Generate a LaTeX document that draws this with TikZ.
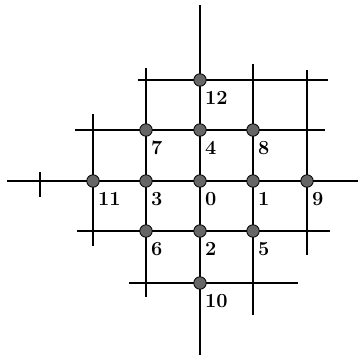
\documentclass[tikz,border=0pt]{standalone}
\usepackage{fontspec}
\begin{document}
\begin{tikzpicture}[x=1pt,y=-1pt,
  gridline/.style={line width=1.4pt,black},
  site/.style={circle,minimum size=12.5pt,inner sep=0pt,fill=black!60,draw=black,line width=0.8pt},
  num/.style={anchor=west,inner sep=0pt,font=\fontsize{20}{20}\selectfont\bfseries}]
\useasboundingbox (0,0) rectangle (358,357);
% line end points
\coordinate (v1a) at (93,114);  \coordinate (v1b) at (93,246);
\coordinate (v2a) at (146,68);  \coordinate (v2b) at (146,297);
\coordinate (v3a) at (200,5);   \coordinate (v3b) at (200,355);
\coordinate (v4a) at (253,64);  \coordinate (v4b) at (253,315);
\coordinate (v5a) at (307,70);  \coordinate (v5b) at (307,255);
\coordinate (ta) at (40,172);   \coordinate (tb) at (40,197);
\coordinate (h1a) at (138,80);  \coordinate (h1b) at (328,80);
\coordinate (h2a) at (75,130);  \coordinate (h2b) at (325,130);
\coordinate (h3a) at (7,181);   \coordinate (h3b) at (358,181);
\coordinate (h4a) at (77,231);  \coordinate (h4b) at (330,231);
\coordinate (h5a) at (129,283); \coordinate (h5b) at (298,283);
% lines
\foreach \a/\b in {v1a/v1b,v2a/v2b,v3a/v3b,v4a/v4b,v5a/v5b,ta/tb,h1a/h1b,h2a/h2b,h3a/h3b,h4a/h4b,h5a/h5b}
  \draw[gridline] (\a) -- (\b);
% sites
\node[site] (n12) at (200,80) {};
\node[site] (n7) at (146,130) {};
\node[site] (n4) at (200,130) {};
\node[site] (n8) at (253,130) {};
\node[site] (n11) at (93,181) {};
\node[site] (n3) at (146,181) {};
\node[site] (n0) at (200,181) {};
\node[site] (n1) at (253,181) {};
\node[site] (n9) at (307,181) {};
\node[site] (n6) at (146,231) {};
\node[site] (n2) at (200,231) {};
\node[site] (n5) at (253,231) {};
\node[site] (n10) at (200,283) {};
% labels
\foreach \n in {0,...,12}
  \node[num] (l\n) at ([xshift=5pt,yshift=-18pt]n\n.center) {\n};
\end{tikzpicture}
\end{document}
